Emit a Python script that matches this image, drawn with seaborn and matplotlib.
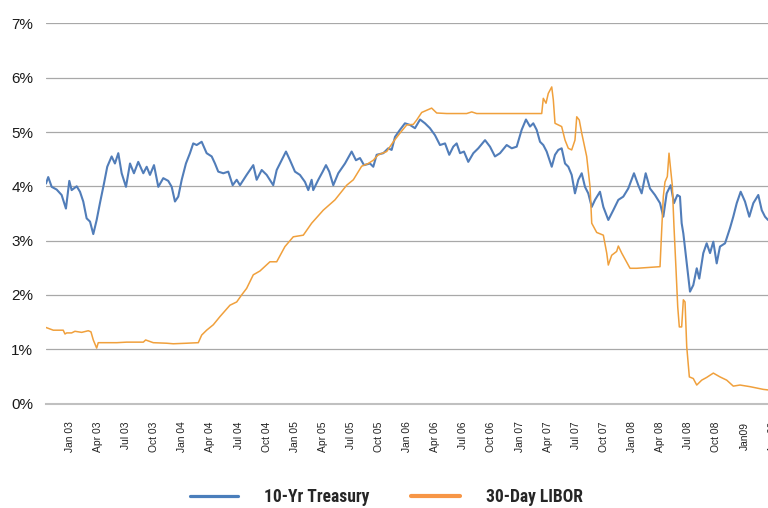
import matplotlib
matplotlib.use("Agg")
import matplotlib.pyplot as plt
from matplotlib import font_manager
from matplotlib.lines import Line2D
import seaborn as sns
import numpy as np
import pandas as pd

# time axis: months since the "Jan 03" label
treasury_t = [-2.56, -2.32, -1.95, -1.42, -0.89, -0.43, -0.07, 0.18, 0.72, 1.07, 1.42, 1.78, 2.14, 2.49, 2.85,
              3.20, 3.63, 3.98, 4.45, 4.80, 5.16, 5.52, 5.98, 6.41, 6.83, 7.29, 7.83, 8.19, 8.54, 8.97, 9.43,
              9.96, 10.49, 10.86, 11.21, 11.56, 11.93, 12.38, 12.81, 13.16, 13.53, 14.06, 14.59, 15.13, 15.48,
              15.83, 16.37, 16.90, 17.37, 17.80, 18.15, 18.86, 19.57, 19.93, 20.47, 21.00, 21.70, 22.07, 22.60,
              23.06, 23.49, 24.02, 24.55, 25.09, 25.44, 25.80, 25.97, 26.51, 26.98, 27.33, 27.68, 28.11, 28.64,
              29.36, 30.07, 30.53, 30.96, 31.39, 32.03, 32.38, 32.74, 33.45, 33.98, 34.34, 34.70, 35.23, 35.76,
              36.30, 36.83, 37.37, 37.90, 38.43, 38.97, 39.50, 40.04, 40.49, 40.92, 41.28, 41.64, 42.06, 42.52,
              43.06, 43.59, 44.31, 44.84, 45.37, 45.91, 46.62, 47.16, 47.69, 48.22, 48.68, 49.11, 49.46, 49.82,
              50.18, 50.53, 50.89, 51.43, 51.78, 52.13, 52.49, 52.85, 53.20, 53.56, 53.91, 54.27, 54.63, 54.98,
              55.33, 55.70, 56.05, 56.58, 56.94, 57.47, 58.00, 58.54, 59.07, 59.60, 60.21, 60.67, 61.03, 61.46,
              61.92, 62.45, 62.99, 63.34, 63.70, 64.13, 64.48, 64.84, 65.12, 65.30, 65.48, 65.84, 66.19, 66.54,
              66.91, 67.18, 67.61, 67.97, 68.33, 68.68, 69.04, 69.39, 69.93, 70.46, 70.81, 71.18, 71.60, 72.06,
              72.52, 72.95, 73.48, 73.85, 74.20, 74.52]
treasury_v = [4.05, 4.17, 3.99, 3.94, 3.84, 3.59, 4.10, 3.93, 4.00, 3.90, 3.72, 3.41, 3.35, 3.12, 3.38,
              3.69, 4.05, 4.36, 4.55, 4.42, 4.61, 4.24, 3.99, 4.42, 4.24, 4.45, 4.24, 4.36, 4.21, 4.39, 3.99,
              4.15, 4.10, 3.99, 3.72, 3.81, 4.12, 4.42, 4.61, 4.79, 4.76, 4.82, 4.61, 4.55, 4.42,
              4.27, 4.24, 4.27, 4.02, 4.12, 4.02, 4.21, 4.39, 4.12, 4.30, 4.21, 4.02, 4.30, 4.48,
              4.64, 4.48, 4.27, 4.21, 4.08, 3.93, 4.12, 3.93, 4.12, 4.27, 4.39, 4.27, 4.02, 4.24,
              4.42, 4.64, 4.48, 4.52, 4.39, 4.42, 4.36, 4.58, 4.61, 4.70, 4.67, 4.91, 5.04, 5.16,
              5.13, 5.07, 5.23, 5.16, 5.07, 4.94, 4.76, 4.79, 4.58, 4.73, 4.79, 4.61, 4.64, 4.45,
              4.61, 4.70, 4.85, 4.73, 4.55, 4.61, 4.76, 4.70, 4.73, 5.04, 5.23, 5.10, 5.16, 5.04,
              4.82, 4.76, 4.64, 4.36, 4.58, 4.67, 4.70, 4.42, 4.36, 4.21, 3.87, 4.12, 4.24, 3.99,
              3.87, 3.62, 3.75, 3.90, 3.62, 3.38, 3.56, 3.75, 3.81, 3.96, 4.24, 4.02, 3.87, 4.24,
              3.96, 3.84, 3.69, 3.44, 3.87, 4.02, 3.69, 3.84, 3.81, 3.32, 3.13, 2.58, 2.06, 2.18,
              2.49, 2.30, 2.77, 2.95, 2.77, 2.98, 2.58, 2.89, 2.95, 3.23, 3.44, 3.69, 3.90, 3.72,
              3.44, 3.69, 3.84, 3.56, 3.44, 3.38]

libor_t = [-2.56, -1.78, -0.72, -0.53, -0.35, 0.18, 0.53, 1.25, 1.95, 2.24, 2.49, 2.85, 3.02, 4.99, 6.05,
           7.83, 8.08, 8.89, 10.32, 11.03, 12.46, 13.70, 14.06, 14.59, 15.30, 16.01, 17.08, 17.80, 18.33,
           18.86, 19.57, 20.28, 21.35, 22.07, 22.95, 23.84, 24.91, 25.80, 27.04, 28.29, 29.54, 30.25, 31.14,
           31.85, 32.38, 32.91, 33.81, 34.52, 35.23, 35.95, 36.65, 37.01, 37.55, 38.61, 39.15, 40.22, 42.35,
           42.89, 43.42, 50.36, 50.53, 50.82, 51.06, 51.43, 51.60, 51.78, 52.49, 52.85, 53.20, 53.56, 53.91,
           54.10, 54.37, 54.63, 55.16, 55.52, 55.70, 56.23, 56.94, 57.30, 57.47, 57.83, 58.36, 58.54, 58.90,
           59.79, 60.50, 62.99, 63.17, 63.34, 63.52, 63.77, 63.95, 64.13, 64.30, 64.48, 64.70, 64.88, 65.05,
           65.30, 65.48, 65.66, 65.84, 66.12, 66.54, 66.91, 67.44, 67.97, 68.68, 69.39, 70.11, 70.81, 71.53,
           72.60, 74.02, 74.52]
libor_v = [1.40, 1.35, 1.35, 1.28, 1.30, 1.30, 1.33, 1.31, 1.34, 1.32, 1.17, 1.02, 1.12, 1.12, 1.13,
           1.13, 1.17, 1.12, 1.11, 1.10, 1.11, 1.12, 1.26, 1.35, 1.45, 1.60, 1.81, 1.87, 2.00,
           2.12, 2.37, 2.44, 2.61, 2.61, 2.89, 3.07, 3.10, 3.32, 3.56, 3.75, 4.02, 4.12, 4.37,
           4.42, 4.48, 4.58, 4.64, 4.82, 4.98, 5.13, 5.14, 5.22, 5.36, 5.44, 5.35, 5.34, 5.34,
           5.37, 5.34, 5.34, 5.62, 5.53, 5.71, 5.83, 5.59, 5.16, 5.10, 4.85, 4.70, 4.67, 4.85,
           5.28, 5.22, 4.98, 4.55, 3.99, 3.32, 3.15, 3.10, 2.77, 2.55, 2.73, 2.80, 2.90, 2.77,
           2.49, 2.49, 2.52, 3.20, 3.81, 4.08, 4.18, 4.61, 4.30, 4.02, 3.26, 2.46, 1.78, 1.41,
           1.41, 1.91, 1.87, 1.05, 0.49, 0.46, 0.34, 0.43, 0.48, 0.56, 0.49, 0.43, 0.32, 0.34,
           0.31, 0.26, 0.25]

quarter_labels = ["Jan 03", "Apr 03", "Jul 03", "Oct 03", "Jan 04", "Apr 04", "Jul 04", "Oct 04",
                  "Jan 05", "Apr 05", "Jul 05", "Oct 05", "Jan 06", "Apr 06", "Jul 06", "Oct 06",
                  "Jan 07", "Apr 07", "Jul 07", "Oct 07", "Jan 08", "Apr 08", "Jul 08", "Oct 08",
                  "Jan09", "Apr 09"]
y_ticks = [0, 1, 2, 3, 4, 5, 6, 7]
series_names = ["10-Yr Treasury", "30-Day LIBOR"]
series_colors = ["#517DB9", "#F0A03C"]
legend_colors = ["#4A7EBB", "#F79646"]

sns.set_style("white")
plt.rcParams["font.family"] = ["Liberation Sans", "DejaVu Sans"]

# pick a condensed bold face for the legend if one is installed
legend_family = None
for cand in ["Liberation Sans Narrow", "DejaVu Sans Condensed", "Roboto Condensed",
             "Open Sans Condensed", "Noto Sans Condensed", "Arial Narrow"]:
    try:
        font_manager.findfont(font_manager.FontProperties(family=cand, weight="bold"),
                              fallback_to_default=False)
        legend_family = cand
        break
    except Exception:
        continue
if legend_family is None:
    legend_family = "Roboto"

fig = plt.figure(figsize=(7.68, 5.08), dpi=100)
x_left, x_right = -2.59, 75.3
ax = fig.add_axes([45.7 / 768, (508 - 403.5) / 508, (70 + 9.367 * x_right - 45.7) / 768, (403.5 - 23.4) / 508])

df_t = pd.DataFrame({"t": treasury_t, "v": treasury_v})
df_l = pd.DataFrame({"t": libor_t, "v": libor_v})
sns.lineplot(data=df_t, x="t", y="v", ax=ax, color=series_colors[0], lw=1.5,
             estimator=None, legend=False)
sns.lineplot(data=df_l, x="t", y="v", ax=ax, color=series_colors[1], lw=1.1,
             estimator=None, legend=False)

ax.set_xlim(x_left, x_right)
ax.set_ylim(0, 7)
ax.set_xlabel("")
ax.set_ylabel("")

ax.set_yticks(y_ticks)
ax.set_yticklabels([f"{v}%" for v in y_ticks], fontsize=11, color="#1a1a1a")
ax.yaxis.grid(True, color="#a8a8a8", lw=0.9)
ax.set_axisbelow(True)

ax.set_xticks(np.arange(len(quarter_labels)) * 3)
ax.set_xticklabels(quarter_labels, rotation=90, fontsize=7.4, color="#222222")
ax.set_xticks(np.arange(x_left, x_right, 2.883), minor=True)
ax.tick_params(axis="x", which="major", length=0, pad=13)
ax.tick_params(axis="x", which="minor", length=3, direction="in", color="#999999", width=0.8)
ax.tick_params(axis="y", length=0, pad=9)

for s in ["left", "right", "top"]:
    ax.spines[s].set_visible(False)
ax.spines["bottom"].set_color("#c0c0c0")
ax.spines["bottom"].set_linewidth(1.5)

# legend font size chosen so the label width stays close to the reference
leg_size = 13.5
renderer = fig.canvas.get_renderer()
probe = fig.text(0, 0, series_names[0], family=legend_family, weight="bold", fontsize=leg_size)
w = probe.get_window_extent(renderer).width
probe.remove()
if w > 106:
    leg_size = leg_size * 106 / w

handles = [Line2D([], [], color=legend_colors[0], lw=2.3),
           Line2D([], [], color=legend_colors[1], lw=3.0)]
leg = fig.legend(handles, series_names, ncol=2, loc="center", bbox_to_anchor=(0.503, 0.021),
                 frameon=False, handlelength=2.8 * 12.5 / leg_size, handletextpad=1.5 * 12.5 / leg_size,
                 columnspacing=2.4 * 12.5 / leg_size,
                 prop={"family": legend_family, "weight": "bold", "size": leg_size})

fig.savefig("out.png", dpi=100)
